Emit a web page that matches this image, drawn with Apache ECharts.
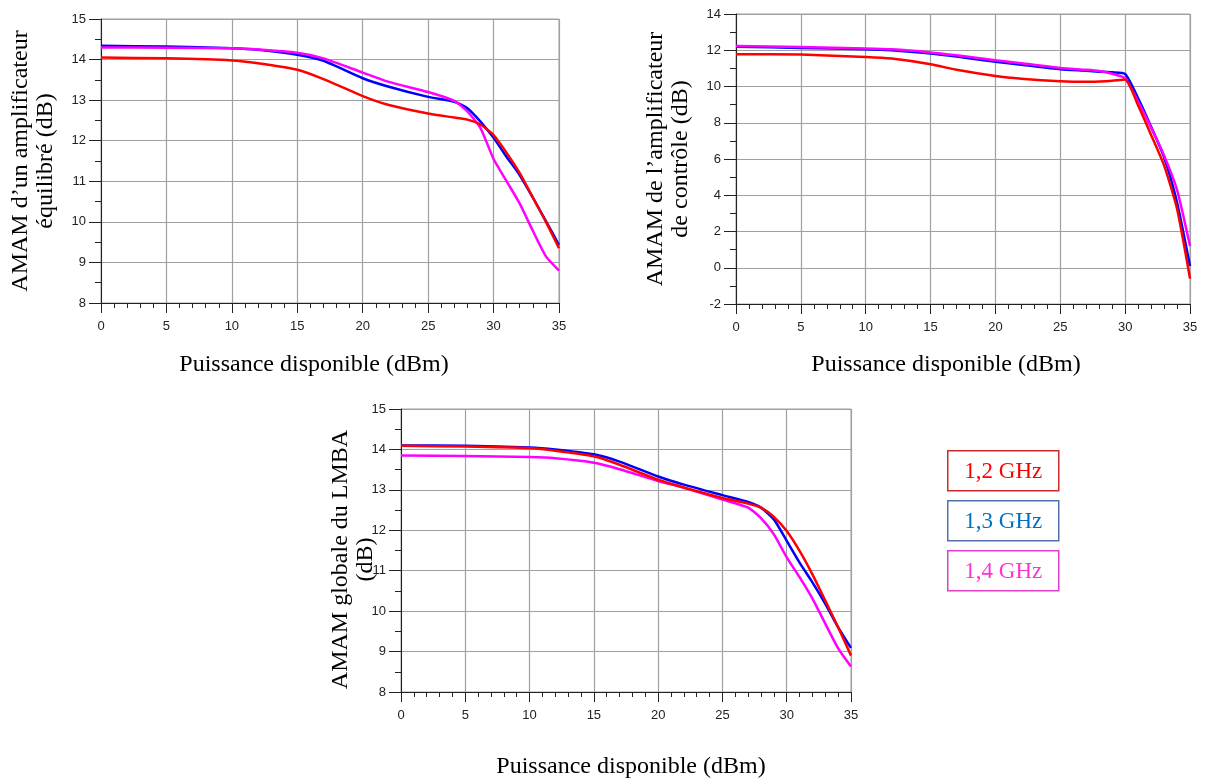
<!DOCTYPE html>
<html>
<head>
<meta charset="utf-8">
<script src="https://cdn.jsdelivr.net/npm/echarts@6/dist/echarts.min.js"></script>
<style>
html,body{margin:0;padding:0;background:#fff;}
#c{width:1206px;height:780px;}
</style>
</head>
<body>
<div id="c"></div>
<script>
// ---- data ----
const xs = [0,5,10,12,15,17,20,22,25,27,28,29,30,31,32,33,34,35];
const freqNames = ['1,2 GHz','1,3 GHz','1,4 GHz'];

// Chart 1: AMAM d'un amplificateur équilibré (dB)
const eq12 = [14.05,14.03,13.98,13.91,13.75,13.52,13.10,12.88,12.67,12.57,12.52,12.40,12.14,11.70,11.20,10.60,10.00,9.35];
const eq13 = [14.34,14.32,14.28,14.24,14.12,13.97,13.54,13.33,13.08,12.96,12.80,12.47,12.07,11.60,11.15,10.60,10.02,9.43];
const eq14 = [14.30,14.29,14.28,14.25,14.17,14.03,13.68,13.45,13.20,12.98,12.72,12.31,11.55,11.00,10.45,9.78,9.15,8.80];

// Chart 2: AMAM de l'amplificateur de contrôle (dB)
const ct12 = [11.78,11.76,11.63,11.54,11.23,10.92,10.58,10.43,10.29,10.26,10.28,10.32,10.39,8.95,7.33,5.65,3.25,-0.60];
const ct13 = [12.19,12.13,12.06,12.00,11.82,11.65,11.36,11.20,10.95,10.87,10.82,10.78,10.69,9.35,7.78,6.10,3.60,0.10];
const ct14 = [12.23,12.18,12.10,12.05,11.88,11.72,11.45,11.28,11.02,10.92,10.85,10.70,10.45,9.15,7.74,6.20,4.30,1.20];

// Chart 3: AMAM globale du LMBA (dB)
const gl12 = [14.09,14.07,14.03,13.97,13.83,13.62,13.25,13.06,12.80,12.66,12.56,12.33,11.98,11.49,10.91,10.26,9.60,8.90];
const gl13 = [14.10,14.09,14.05,14.00,13.88,13.70,13.33,13.13,12.87,12.70,12.56,12.27,11.74,11.20,10.71,10.18,9.60,9.09];
const gl14 = [13.85,13.84,13.81,13.78,13.67,13.51,13.22,13.05,12.76,12.56,12.30,11.90,11.33,10.84,10.31,9.69,9.08,8.63];

const xTitle = 'Puissance disponible (dBm)';
const yTitles = ['AMAM d\u2019un amplificateur\n\u00e9quilibr\u00e9 (dB)', 'AMAM de l\u2019amplificateur\nde contr\u00f4le (dB)', 'AMAM globale du LMBA\n(dB)'];
const yRanges = [[8,15,1],[-2,14,2],[8,15,1]];
const xRange = [0,35,5];

// ---- styles ----
const lineColors = ['#ff0000','#0000ff','#ff00ff'];
const legendText = ['#ff0000','#0070c0','#ff33cc'];
const legendBorder = ['#cc2b2b','#5072ad','#e040c8'];
const serif = 'Liberation Serif';
const sans = 'Liberation Sans';

const grids = [
  {left:101, top:19, width:458, height:284},
  {left:736, top:14, width:454, height:290},
  {left:401, top:409, width:450, height:283}
];
const yNameGap = [43, 43, 23];
const yNamePad = [[0,0,0,0],[0,0,0,0],[0,18,0,0]];
const xNameGap = [50, 49, 63];
const xNamePad = [[0,32,0,0],[0,34,0,0],[0,0,0,10]];

function pairs(vals){ return xs.map((x,i)=>[x, vals[i]]); }

const option = {
  animation:false,
  backgroundColor:'#fff',
  grid: grids.map(g=>Object.assign({show:true, borderColor:'#a0a0a0', borderWidth:1, backgroundColor:'transparent'}, g)),
  xAxis: grids.map((g,i)=>({
    gridIndex:i, type:'value', min:xRange[0], max:xRange[1], interval:xRange[2],
    name:xTitle, nameLocation:'middle', nameGap:xNameGap[i], nameMoveOverlap:false,
    nameTextStyle:{fontFamily:serif, fontSize:24, color:'#000', padding:xNamePad[i]},
    axisLine:{show:true, onZero:false, lineStyle:{color:'#222', width:1}},
    axisTick:{show:true, inside:false, length:10, lineStyle:{color:'#222'}},
    minorTick:{show:true, splitNumber:5, length:5, lineStyle:{color:'#222'}},
    axisLabel:{fontFamily:sans, fontSize:13, color:'#222', margin:17},
    splitLine:{show:true, lineStyle:{color:'#a0a0a0', width:1.2}}
  })),
  yAxis: grids.map((g,i)=>({
    gridIndex:i, type:'value', min:yRanges[i][0], max:yRanges[i][1], interval:yRanges[i][2],
    name:yTitles[i], nameLocation:'middle', nameRotate:90, nameGap:yNameGap[i], nameMoveOverlap:false,
    nameTextStyle:{fontFamily:serif, fontSize:24, color:'#000', lineHeight:25, padding:yNamePad[i]},
    axisLine:{show:true, onZero:false, lineStyle:{color:'#222', width:1}},
    axisTick:{show:true, inside:false, length:12, lineStyle:{color:'#222'}},
    minorTick:{show:true, splitNumber:2, length:6, lineStyle:{color:'#222'}},
    axisLabel:{fontFamily:sans, fontSize:13, color:'#222', margin:15},
    splitLine:{show:true, lineStyle:{color:'#a0a0a0', width:1.2}}
  })),
  series: []
};

const sets = [[eq12,eq13,eq14],[ct12,ct13,ct14],[gl12,gl13,gl14]];
const drawOrder = [1,2,0]; // blue, magenta, red (red on top)
sets.forEach((set,gi)=>{
  drawOrder.forEach(k=>{
    option.series.push({
      type:'line', name:freqNames[k], xAxisIndex:gi, yAxisIndex:gi,
      data:pairs(set[k]), showSymbol:false, smooth:0.2,
      lineStyle:{color:lineColors[k], width:2.5}, itemStyle:{color:lineColors[k]}
    });
  });
});

// legend boxes
option.graphic = freqNames.map((n,k)=>({
  type:'group', left:947, top:450 + k*50,
  children:[
    {type:'rect', shape:{x:0, y:0, width:111, height:40}, style:{fill:'#fff', stroke:legendBorder[k], lineWidth:1.5}},
    {type:'text', x:55.5, y:21, style:{text:n, fill:legendText[k], font:'23px "Liberation Serif"', textAlign:'center', textVerticalAlign:'middle'}}
  ]
}));

const chart = echarts.init(document.getElementById('c'), null, {renderer:'canvas'});
chart.setOption(option);
</script>
</body>
</html>
